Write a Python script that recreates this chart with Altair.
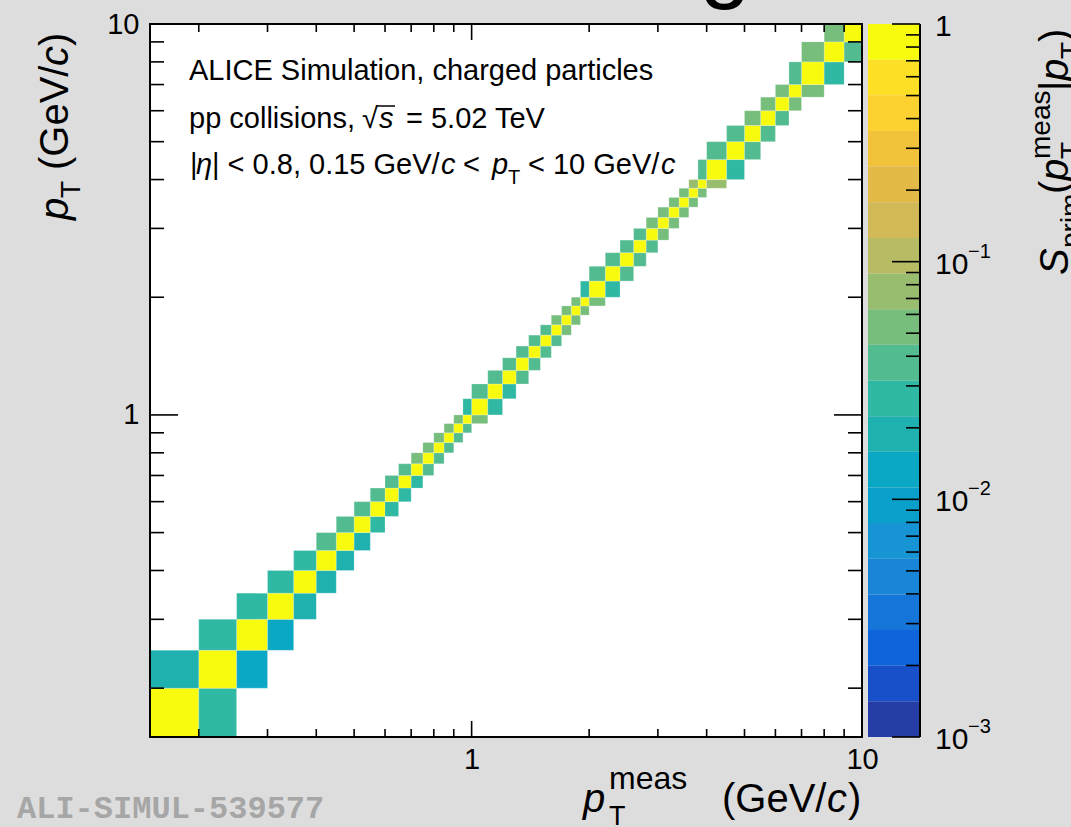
import altair as alt
import numpy as np
import pandas as pd

# ---------------- data ----------------
# pT bin edges (GeV/c), same binning for measured (x) and true (y)
edges = [0.15, 0.2, 0.25, 0.3, 0.35, 0.4, 0.45, 0.5, 0.55, 0.6, 0.65, 0.7, 0.75, 0.8, 0.85, 0.9, 0.95, 1.0,
         1.1, 1.2, 1.3, 1.4, 1.5, 1.6, 1.7, 1.8, 1.9, 2.0, 2.2, 2.4, 2.6, 2.8, 3.0, 3.2, 3.4, 3.6, 3.8, 4.0,
         4.5, 5.0, 5.5, 6.0, 6.5, 7.0, 8.0, 9.0, 10.0]

# diagonal cells (meas bin j, true bin j), j = 0..45
diag = [0.97, 0.97, 0.96, 0.95, 0.95, 0.95, 0.94, 0.94, 0.94, 0.94,
        0.94, 0.92, 0.91, 0.91, 0.91, 0.91, 0.89, 0.95, 0.94, 0.92,
        0.92, 0.92, 0.92, 0.91, 0.89, 0.89, 0.89, 0.95, 0.92, 0.92,
        0.92, 0.91, 0.89, 0.89, 0.89, 0.89, 0.85, 0.93, 0.92, 0.92,
        0.91, 0.89, 0.89, 0.93, 0.91, 0.95]

# cells left of the diagonal (meas bin j-1, true bin j), j = 1..45
lower = [0.019, 0.027, 0.027, 0.027, 0.027, 0.038, 0.038, 0.038, 0.038, 0.038,
         0.038, 0.053, 0.053, 0.053, 0.053, 0.053, 0.027, 0.038, 0.038, 0.038,
         0.038, 0.038, 0.038, 0.053, 0.053, 0.053, 0.027, 0.038, 0.038, 0.038,
         0.038, 0.053, 0.053, 0.053, 0.053, 0.075, 0.038, 0.038, 0.038, 0.053,
         0.053, 0.053, 0.038, 0.053, 0.053]

# cells right of the diagonal (meas bin j+1, true bin j), j = 0..44
upper = [0.027, 0.013, 0.013, 0.019, 0.019, 0.019, 0.019, 0.027, 0.027, 0.027,
         0.027, 0.038, 0.038, 0.038, 0.038, 0.038, 0.053, 0.027, 0.027, 0.038,
         0.038, 0.038, 0.038, 0.053, 0.053, 0.053, 0.053, 0.027, 0.038, 0.038,
         0.038, 0.053, 0.053, 0.053, 0.053, 0.053, 0.075, 0.027, 0.038, 0.038,
         0.038, 0.053, 0.053, 0.027, 0.038]

x_major = [1, 10]
x_minor = [0.2, 0.3, 0.4, 0.5, 0.6, 0.7, 0.8, 0.9, 2, 3, 4, 5, 6, 7, 8, 9]
z_major = [0.001, 0.01, 0.1, 1]
z_minor = [0.002, 0.003, 0.004, 0.005, 0.006, 0.007, 0.008, 0.009,
           0.02, 0.03, 0.04, 0.05, 0.06, 0.07, 0.08, 0.09,
           0.2, 0.3, 0.4, 0.5, 0.6, 0.7, 0.8, 0.9]
z_base = ["10", "10", "10", "1"]
z_exp = ["\u22123", "\u22122", "\u22121", ""]

# palette (bottom -> top of colour bar), 20 contour levels
palette = ["#263ca7", "#1850ca", "#0f64dc", "#1575d8", "#1985d6", "#1694d3", "#0aa0cc",
           "#0ba8c5", "#1fb0b0", "#2fb9a4", "#52bc90", "#77be7d", "#99bd6f", "#b7bc64",
           "#d1b957", "#e3b948", "#f3c23b", "#fdd12f", "#fde025", "#f9fb0e"]

# ---------------- tables ----------------
rows = []
for j in range(len(diag)):
    rows.append(dict(xlo=edges[j], xhi=edges[j + 1], ylo=edges[j], yhi=edges[j + 1], v=diag[j]))
    if j >= 1:
        rows.append(dict(xlo=edges[j - 1], xhi=edges[j], ylo=edges[j], yhi=edges[j + 1], v=lower[j - 1]))
    if j <= len(upper) - 1:
        rows.append(dict(xlo=edges[j + 1], xhi=edges[j + 2], ylo=edges[j], yhi=edges[j + 1], v=upper[j]))
cells = pd.DataFrame(rows)

levels = np.logspace(-3, 0, len(palette) + 1)
bands = pd.DataFrame({"lo": levels[:-1], "hi": levels[1:]})
bands["mid"] = np.sqrt(bands["lo"] * bands["hi"])

zlab = pd.DataFrame({"v": z_major, "base": z_base, "exp": z_exp})

F = "Liberation Sans"
W, H = 712, 713

xs = alt.Scale(type="log", domain=[0.15, 10], nice=False)
ys = alt.Scale(type="log", domain=[0.15, 10], nice=False)
cbs = alt.Scale(type="log", domain=[0.001, 1], nice=False)
cscale = alt.Scale(type="threshold", domain=list(levels[1:-1]), range=palette)

def main_axis(pad):
    return alt.Axis(values=x_major, format="~g", ticks=False, domain=False, grid=False,
                    labelFont=F, labelFontSize=29, labelColor="black", labelPadding=pad,
                    labelFlush=False, title=None)

XAX = main_axis(8)

heat = alt.Chart(cells).mark_rect(stroke="white", strokeWidth=0.6, strokeOpacity=0.35).encode(
    x=alt.X("xlo:Q", scale=xs, axis=XAX),
    x2="xhi:Q",
    y=alt.Y("ylo:Q", scale=ys, axis=main_axis(11)),
    y2="yhi:Q",
    color=alt.Color("v:Q", scale=cscale, legend=None),
)

def xticks(vals, y0, y1):
    return alt.Chart(pd.DataFrame({"xlo": vals})).mark_rule(color="black", strokeWidth=1.6).encode(
        x=alt.X("xlo:Q", scale=xs, axis=XAX), y=alt.value(y0), y2=alt.value(y1))

def yticks(vals, x0, x1, scale):
    return alt.Chart(pd.DataFrame({"t": vals})).mark_rule(color="black", strokeWidth=1.6).encode(
        y=alt.Y("t:Q", scale=scale, axis=None), x=alt.value(x0), x2=alt.value(x1))

def txt(s, x, y, size=29, italic=False, angle=0, align="left", baseline="alphabetic",
        color="black", weight="normal", font=F):
    return alt.Chart(pd.DataFrame({"t": [s]})).mark_text(
        align=align, baseline=baseline, fontSize=size, fontStyle="italic" if italic else "normal",
        fontWeight=weight, angle=angle, color=color, font=font).encode(
        x=alt.value(x), y=alt.value(y), text="t:N")

layers = [heat,
          xticks(x_major, H, H - 16), xticks(x_minor, H, H - 8),
          xticks(x_major, 0, 16), xticks(x_minor, 0, 8),
          yticks(x_major, 0, 28, ys), yticks(x_minor, 0, 14, ys),
          yticks(x_major, W, W - 28, ys), yticks(x_minor, W, W - 14, ys)]

frame = alt.Chart(pd.DataFrame({"a": [0]})).mark_rect(filled=False, stroke="black", strokeWidth=2).encode(
    x=alt.value(0), x2=alt.value(W), y=alt.value(0), y2=alt.value(H))
layers.append(frame)

# colour bar
CB0, CB1 = 718, 770
cb = alt.Chart(bands).mark_rect().encode(
    x=alt.value(CB0), x2=alt.value(CB1),
    y=alt.Y("lo:Q", scale=cbs, axis=None), y2="hi:Q",
    color=alt.Color("mid:Q", scale=cscale, legend=None))
layers += [cb,
           yticks(z_major, CB1 - 28, CB1, cbs), yticks(z_minor, CB1 - 14, CB1, cbs),
           alt.Chart(pd.DataFrame({"a": [0]})).mark_rule(color="black", strokeWidth=2).encode(
               x=alt.value(CB1), y=alt.value(0), y2=alt.value(H))]
layers.append(alt.Chart(zlab).mark_text(align="left", baseline="middle", fontSize=30, font=F, dy=3).encode(
    y=alt.Y("v:Q", scale=cbs, axis=None), x=alt.value(785), text="base:N"))
layers.append(alt.Chart(zlab).mark_text(align="left", baseline="middle", fontSize=20, font=F, dy=-10).encode(
    y=alt.Y("v:Q", scale=cbs, axis=None), x=alt.value(818), text="exp:N"))

# text block inside the frame
layers += [
    txt("ALICE Simulation, charged particles", 39, 56),
    txt("pp collisions,", 39, 104),
    txt("\u221a", 212, 104),
    txt("s", 229, 104, italic=True),
    alt.Chart(pd.DataFrame({"a": [0]})).mark_rule(color="black", strokeWidth=1.5).encode(
        x=alt.value(227), x2=alt.value(245), y=alt.value(82)),
    txt("= 5.02 TeV", 256, 104),
    txt("|", 40, 150),
    txt("\u03b7", 46, 150, italic=True),
    txt("| < 0.8, 0.15 GeV/", 62, 150),
    txt("c", 291, 150, italic=True),
    txt("<", 313, 150),
    txt("p", 342, 150, italic=True),
    txt("T", 358, 160, size=20),
    txt("< 10 GeV/", 378, 150),
    txt("c", 511, 150, italic=True),
]

# x title
layers += [
    txt("p", 433, 788, size=40, italic=True),
    txt("T", 459, 801, size=27),
    txt("meas", 459, 765, size=32),
    txt("(GeV/", 572, 788, size=40),
    txt("c", 677, 788, size=40, italic=True),
    txt(")", 698, 788, size=40),
]

# y title (rotated)
YX = -82
layers += [
    txt("p", YX, 196, size=40, italic=True, angle=270),
    txt("T", YX + 12, 174, size=28, angle=270),
    txt("(GeV/", YX, 146, size=40, angle=270),
    txt("c", YX, 42, size=40, italic=True, angle=270),
    txt(")", YX, 22, size=40, angle=270),
]

# colour bar title (rotated, clipped at the right edge)
ZX = 918
layers += [
    txt("S", ZX, 251, size=40, italic=True, angle=270),
    txt("prim", ZX + 12, 224, size=28, angle=270),
    txt("(", ZX, 170, size=40, angle=270),
    txt("p", ZX, 157, size=40, italic=True, angle=270),
    txt("T", ZX + 12, 135, size=28, angle=270),
    txt("meas", ZX - 18, 135, size=28, angle=270),
    txt("|", ZX, 67, size=40, angle=270),
    txt("p", ZX, 57, size=40, italic=True, angle=270),
    txt("T", ZX + 12, 35, size=28, angle=270),
    txt(")", ZX, 18, size=40, angle=270),
]

# watermark and the clipped title remnant
layers += [
    txt("ALI-SIMUL-539577", -133, 794, size=32, weight="bold", color="#a6a6a6", font="Liberation Mono"),
    txt("g", 575, -33, size=92, align="center"),
]

chart = alt.layer(*layers).resolve_scale(y="independent").properties(
    width=W, height=H,
    padding={"left": 150, "top": 24, "right": 209, "bottom": 90},
    autosize=alt.AutoSizeParams(type="none"),
).configure(background="#dddddd").configure_view(stroke="transparent", fill="white")

chart.save("out.html", embed_options={"renderer": "svg", "actions": False})
